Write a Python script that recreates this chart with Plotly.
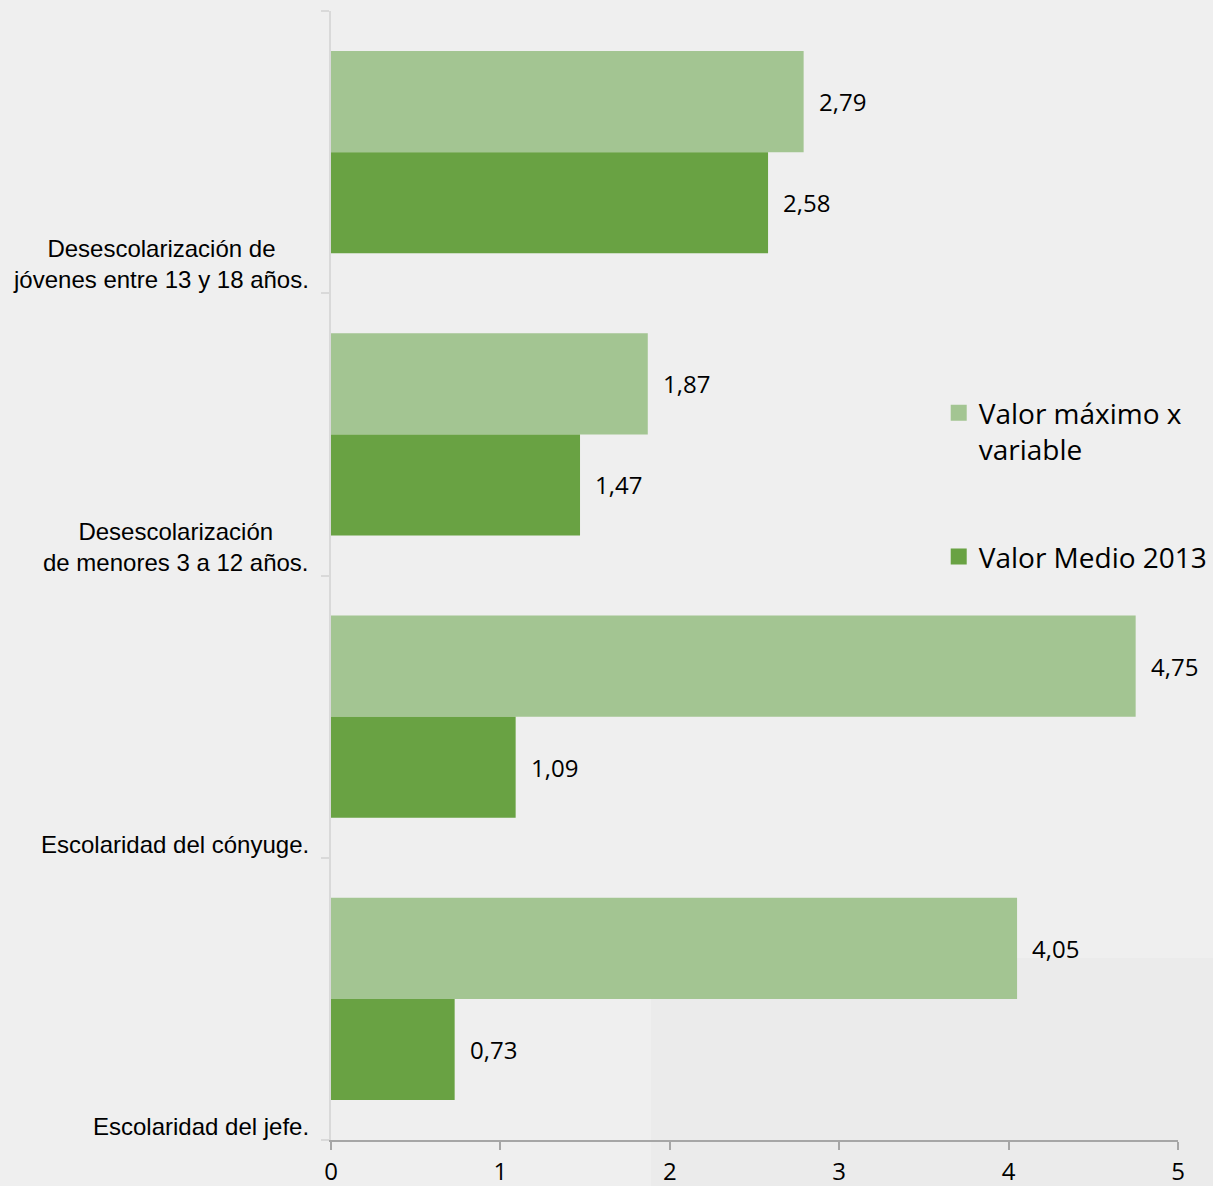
import plotly.graph_objects as go

categories = [
    "Desescolarización de<br>jóvenes entre 13 y 18 años.",
    "Desescolarización<br>de menores 3 a 12 años.",
    "Escolaridad del cónyuge.",
    "Escolaridad del jefe.",
]
valor_maximo = [2.79, 1.87, 4.75, 4.05]
valor_medio = [2.58, 1.47, 1.09, 0.73]
series_names = ["Valor máximo x<br>variable", "Valor Medio 2013"]
x_ticks = [0, 1, 2, 3, 4, 5]

LIGHT = "#A3C592"
DARK = "#69A243"
BG = "#EFEFEF"
BARGAP = 0.284

ypos = list(range(len(categories)))

fig = go.Figure()
for vals, color in ((valor_maximo, LIGHT), (valor_medio, DARK)):
    fig.add_trace(go.Bar(
        y=ypos, x=vals, orientation="h",
        marker=dict(color=color, line=dict(width=0)),
        showlegend=False, hoverinfo="x",
    ))
# legend entries (square symbols)
for name, color, grp in ((series_names[0], LIGHT, "a"), (series_names[1], DARK, "b")):
    fig.add_trace(go.Scatter(
        x=[None], y=[None], mode="markers", name=name, legendgroup=grp,
        marker=dict(symbol="square", size=17, color=color),
    ))

half = (1 - BARGAP) / 4
annotations = []
for i, (vmax, vmed) in enumerate(zip(valor_maximo, valor_medio)):
    for v, off in ((vmax, -half), (vmed, half)):
        annotations.append(dict(
            x=v, y=i + off, xref="x", yref="y",
            text=f"{v:.2f}".replace(".", ","),
            showarrow=False, xanchor="left", yanchor="middle", xshift=13,
            font=dict(family="Open Sans", size=24, color="#000000"),
        ))
    annotations.append(dict(
        x=0, y=i + 0.5, xref="paper", yref="y",
        text=categories[i], showarrow=False,
        xanchor="right", yanchor="bottom", align="center", xshift=-20, yshift=-2,
        font=dict(family="Liberation Sans, Arial", size=24, color="#000000"),
    ))

fig.update_layout(
    width=1213, height=1186,
    margin=dict(l=331, r=35, t=11, b=46, autoexpand=False),
    paper_bgcolor=BG, plot_bgcolor=BG,
    barmode="group", bargap=BARGAP, bargroupgap=0,
    showlegend=True,
    legend=dict(
        x=0.7175, y=0.666, xanchor="left", yanchor="top",
        bgcolor="rgba(0,0,0,0)", borderwidth=0,
        font=dict(family="Open Sans", size=28, color="#000000"),
        tracegroupgap=68, valign="top", traceorder="grouped",
    ),
    xaxis=dict(
        range=[0, 5], tickvals=x_ticks, ticktext=[str(t) for t in x_ticks],
        showgrid=False, zeroline=False,
        showline=True, linecolor="#A6A6A6", linewidth=1.5,
        ticks="outside", ticklen=8, tickcolor="#A6A6A6", tickwidth=1.5,
        ticklabelstandoff=1,
        tickfont=dict(family="Open Sans", size=24, color="#000000"),
    ),
    yaxis=dict(
        range=[len(categories) - 0.5, -0.5],
        tickvals=[i - 0.5 for i in range(len(categories) + 1)],
        ticktext=["" for _ in range(len(categories) + 1)],
        showgrid=False, zeroline=False,
        showline=True, linecolor="#D9D9D9", linewidth=1.5,
        ticks="outside", ticklen=8, tickcolor="#D9D9D9", tickwidth=1.5,
    ),
    annotations=annotations,
    shapes=[dict(
        type="rect", xref="paper", yref="paper",
        x0=(651 - 331) / 847, x1=1.05, y0=-0.05, y1=(1140 - 958) / 1129,
        fillcolor="#EBEBEB", line=dict(width=0), layer="below",
    )],
)

fig.write_html(
    "out.html",
    config={"displayModeBar": False},
    post_script="document.body.style.margin='0';document.body.style.overflow='hidden';",
)
